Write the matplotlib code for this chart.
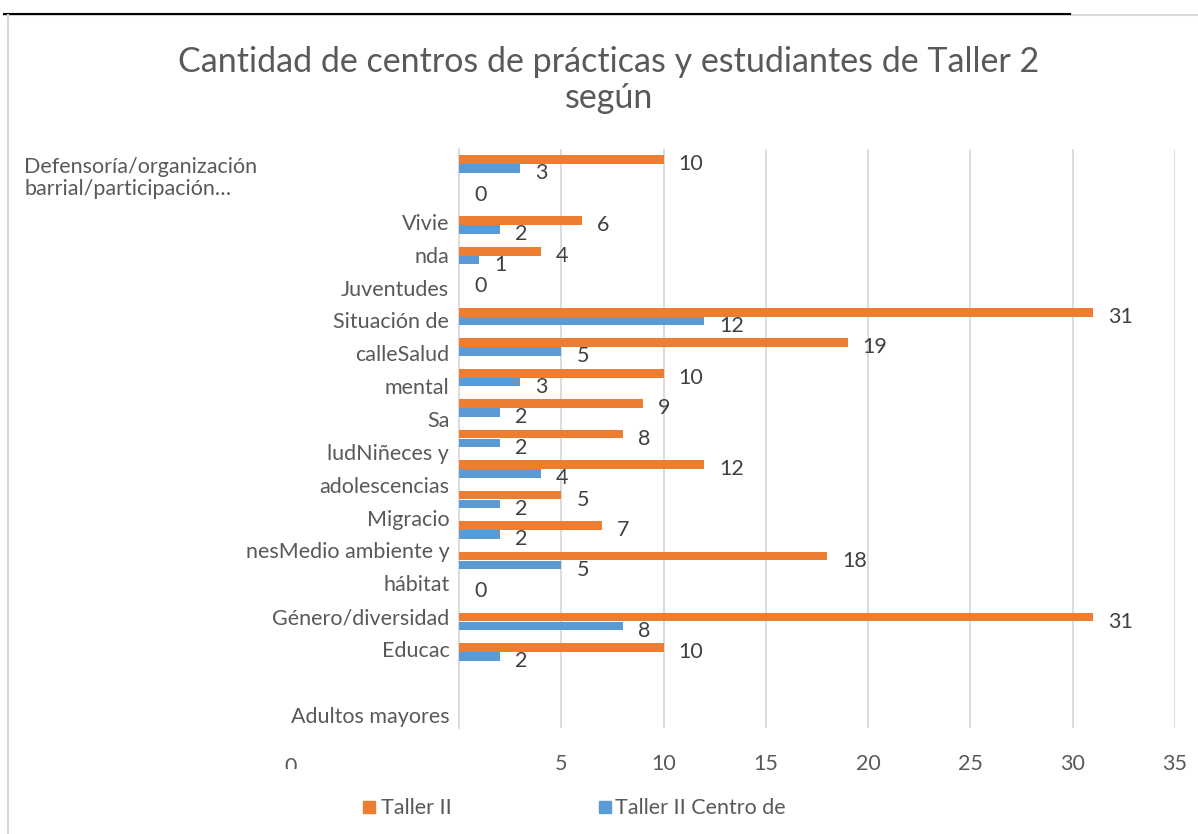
import numpy as np
import matplotlib
matplotlib.use("Agg")
import matplotlib.pyplot as plt
from matplotlib.lines import Line2D
from matplotlib.transforms import Bbox, TransformedBbox

plt.rcParams['font.family'] = ['Lato', 'DejaVu Sans']

# data (top row first)
taller_ii = [10, 0, 6, 4, 0, 31, 19, 10, 9, 8, 12, 5, 7, 18, 0, 31, 10]
taller_ii_centros = [3, None, 2, 1, None, 12, 5, 3, 2, 2, 4, 2, 2, 5, None, 8, 2]
first_label = "Defensoría/organización\nbarrial/participación…"
category_labels = ["Vivie", "nda", "Juventudes", "Situación de", "calleSalud", "mental",
                   "Sa", "ludNiñeces y", "adolescencias", "Migracio", "nesMedio ambiente y",
                   "hábitat", "Género/diversidad", "Educac", "", "Adultos mayores"]
x_ticks = [5, 10, 15, 20, 25, 30, 35]
title = "Cantidad de centros de prácticas y estudiantes de Taller 2\nsegún"
legend_names = ["Taller II", "Taller II Centro de"]

ORANGE = "#ED7D31"
BLUE = "#5B9BD5"
GRID = "#D9D9D9"
TXT = "#595959"
W, H = 1198, 834
FS = 15.5

fig = plt.figure(figsize=(W / 100, H / 100), dpi=100)
ax = fig.add_axes([459 / W, 1 - 728.25 / H, 716 / W, (728.25 - 148.75) / H])

rows = np.arange(len(taller_ii))
bh = 0.295
ax.barh(rows - bh / 2, taller_ii, height=bh, color=ORANGE, zorder=3)
blue_rows = [r for r, v in zip(rows, taller_ii_centros) if v is not None]
blue_vals = [v for v in taller_ii_centros if v is not None]
ax.barh(np.array(blue_rows) + bh / 2, blue_vals, height=bh, color=BLUE, zorder=3)

for r, v in zip(rows, taller_ii):
    ax.annotate(str(v), (v, r - bh / 2), xytext=(10.8, -3.5), textcoords="offset points",
                ha="left", va="center", fontsize=FS, color="#404040")
for r, v in zip(blue_rows, blue_vals):
    ax.annotate(str(v), (v, r + bh / 2), xytext=(10.8, -3.5), textcoords="offset points",
                ha="left", va="center", fontsize=FS, color="#404040")

ax.set_xlim(0, 35)
ax.set_ylim(18.5, -0.5)
ax.set_xticks(x_ticks)
ax.tick_params(axis="x", length=0, pad=18.5, labelsize=FS, labelcolor=TXT)
label_pos = 1.9 + 1.077 * np.arange(len(category_labels))
ax.set_yticks(label_pos, category_labels)
ax.tick_params(axis="y", length=0, pad=7, labelsize=FS, labelcolor=TXT)
ax.grid(axis="x", color=GRID, lw=1.3, zorder=0)
for s in ["top", "right", "bottom"]:
    ax.spines[s].set_visible(False)
ax.spines["left"].set_color(GRID)
ax.spines["left"].set_linewidth(1.3)

fig.text(24 / W, 1 - 178 / H, first_label, ha="left", va="center", fontsize=FS,
         color=TXT, linespacing=1.1)

# clipped "0" left over from the axis
zero = fig.text(291 / W, 1 - 767 / H, "0", ha="center", va="center", fontsize=FS, color=TXT)
zero.set_clip_box(TransformedBbox(Bbox([[0, 1 - 769 / H], [1, 1]]), fig.transFigure))
zero.set_clip_on(True)

fig.text(609 / W, 1 - 80 / H, title, ha="center", va="center", fontsize=24.5,
         color=TXT, linespacing=1.15)

# legend
fig.patches.append(plt.Rectangle((363 / W, 1 - 813 / H), 12 / W, 12 / H, color=ORANGE,
                                 transform=fig.transFigure, figure=fig))
fig.text(381 / W, 1 - 808 / H, legend_names[0], ha="left", va="center", fontsize=FS, color=TXT)
fig.patches.append(plt.Rectangle((599 / W, 1 - 813 / H), 12 / W, 12 / H, color=BLUE,
                                 transform=fig.transFigure, figure=fig))
fig.text(615 / W, 1 - 808 / H, legend_names[1], ha="left", va="center", fontsize=FS, color=TXT)

# frame lines
fig.add_artist(Line2D([4 / W, 1], [1 - 15 / H] * 2, color=GRID, lw=1.5, transform=fig.transFigure))
fig.add_artist(Line2D([4 / W, 1070 / W], [1 - 13.5 / H] * 2, color="black", lw=1.5,
                      transform=fig.transFigure))
fig.add_artist(Line2D([7.5 / W] * 2, [0, 1 - 15 / H], color=GRID, lw=1.5, transform=fig.transFigure))

fig.savefig("out.png", dpi=100)
